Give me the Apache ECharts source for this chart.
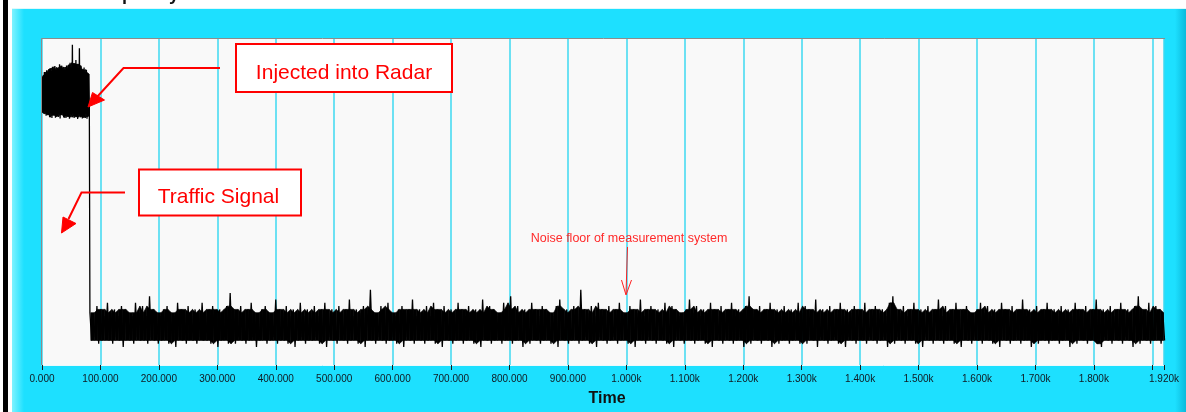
<!DOCTYPE html>
<html>
<head>
<meta charset="utf-8">
<title>Time trace</title>
<script src="https://cdn.jsdelivr.net/npm/echarts@6/dist/echarts.min.js"></script>
<style>
  html, body { margin: 0; padding: 0; background: #ffffff; }
  #wrap { position: relative; width: 1186px; height: 412px; overflow: hidden; background: #ffffff; }
  #edge { position: absolute; left: 3px; top: 0; width: 5px; height: 412px; background: #000000; }
  #panel {
    position: absolute; left: 12px; top: 8px; width: 1174px; height: 404px;
    background:
      linear-gradient(to right, #7ff3ff 0px, #1de0ff 12px, #1de0ff 1163px, #0cbadb 1174px);
    border-top: 1px solid #dff8fc;
    box-sizing: border-box;
  }
  #chart { position: absolute; left: 0; top: 0; width: 1186px; height: 412px; }
</style>
</head>
<body>
<div id="wrap">
  <div id="edge"></div>
  <div id="panel"></div>
  <div id="chart"></div>
</div>
<script>
// Time axis (in thousands of samples)
const timeMin = 0;
const timeMax = 1920;
const timeStep = 100;
const hiddenTickLabels = [1900];

// Burst of injected traffic signal: envelope peaks and troughs per time bin
const burstStart = 0;
const burstStep = 2;
const burstHi = [88.0, 88.5, 89.6, 89.0, 90.1, 89.4, 90.5, 90.8, 89.9, 91.2,
  90.4, 91.4, 90.2, 91.0, 90.6, 92.0, 90.8, 91.5, 90.2, 91.1,
  90.2, 91.6, 90.5, 91.8, 92.4, 91.0, 97.9, 92.2, 91.4, 93.3,
  92.0, 90.8, 96.9, 91.5, 90.4, 90.2, 91.0, 89.6, 90.3, 89.2, 89.0];
const burstLo = [77.2, 76.8, 77.5, 76.2, 77.0, 76.5, 75.8, 76.9, 75.5, 76.4,
  77.0, 75.6, 76.3, 75.9, 76.8, 75.4, 76.5, 77.1, 75.7, 76.2,
  75.5, 76.8, 76.0, 75.3, 76.6, 75.8, 76.9, 75.5, 76.2, 75.9,
  75.2, 76.7, 75.8, 76.3, 75.4, 76.1, 75.6, 76.8, 75.3, 76.0, 79.0];

// Noise floor after the burst: envelope peaks and troughs per time bin
const floorStart = 82;
const floorStep = 6;
const floorHi = [
  16,15,18,17,15,19,16,17,15,18, 17,16,15,19,16,18,15,21,17,16,
  15,17,18,16,15,19,17,16,18,15, 17,16,19,15,17,18,16,17,15,18,
  22,17,16,18,15,17,19,16,15,17, 18,16,15,20,17,16,18,15,17,16,
  19,15,17,16,18,15,17,19,16,17, 15,18,16,17,20,15,17,16,18,17,
  23,16,15,18,17,19,16,15,17,18, 16,17,20,15,17,16,18,15,19,17,
  16,18,15,17,16,19,17,15,18,16, 17,15,20,16,18,17,15,16,19,17,
  21,16,18,15,17,16,19,17,15,18, 17,16,15,18,20,16,17,15,18,17,
  23,17,16,18,15,19,17,16,18,15, 17,19,16,15,18,17,16,20,15,17,
  18,16,17,15,19,16,18,17,15,16, 17,20,16,18,15,17,16,19,17,15,
  18,16,17,19,15,17,16,18,21,17, 16,18,15,17,19,16,17,15,18,16,
  17,15,19,16,18,17,15,20,16,17, 15,18,16,17,19,15,17,16,18,17,
  16,19,15,17,18,16,17,15,19,21, 17,16,18,15,17,19,16,17,15,18,
  16,17,20,15,18,16,17,19,15,17, 18,16,15,17,19,16,18,15,17,16,
  19,17,15,18,16,17,20,15,17,16, 18,15,17,19,16,17,15,18,16,17,
  15,19,17,16,18,15,17,20,16,17, 16,18,15,17,19,16,17,15,18,21,
  17,16,19,15,18,17,16];
const floorLo = [
  7.5,8.5,6.5,7.5,8.5,7.5,6.5,8.5,7.5,5.5, 8.5,7.5,6.5,8.5,7.5,7.5,6.5,8.5,7.5,6.5,
  7.5,8.5,6.5,7.5,5.5,8.5,7.5,6.5,8.5,7.5, 6.5,8.5,7.5,7.5,6.5,8.5,5.5,7.5,8.5,6.5,
  7.5,6.5,8.5,7.5,6.5,7.5,8.5,5.5,7.5,8.5, 6.5,7.5,8.5,6.5,7.5,7.5,6.5,8.5,5.5,7.5,
  8.5,6.5,7.5,7.5,8.5,6.5,7.5,5.5,8.5,7.5, 6.5,8.5,7.5,6.5,7.5,8.5,6.5,7.5,5.5,8.5,
  7.5,6.5,8.5,7.5,6.5,7.5,8.5,6.5,7.5,5.5, 8.5,7.5,6.5,8.5,7.5,6.5,7.5,8.5,6.5,7.5,
  5.5,8.5,7.5,6.5,7.5,8.5,6.5,7.5,8.5,6.5, 7.5,5.5,8.5,7.5,6.5,7.5,8.5,6.5,7.5,8.5,
  6.5,7.5,8.5,5.5,7.5,6.5,8.5,7.5,6.5,7.5, 8.5,6.5,7.5,5.5,8.5,7.5,6.5,7.5,8.5,6.5,
  7.5,8.5,6.5,7.5,5.5,8.5,7.5,6.5,7.5,8.5, 6.5,7.5,8.5,6.5,7.5,5.5,8.5,7.5,6.5,8.5,
  7.5,6.5,8.5,7.5,6.5,7.5,5.5,8.5,7.5,6.5, 8.5,7.5,6.5,7.5,8.5,6.5,7.5,5.5,8.5,7.5,
  6.5,8.5,7.5,6.5,7.5,8.5,5.5,7.5,6.5,8.5, 7.5,6.5,8.5,7.5,5.5,8.5,6.5,7.5,8.5,6.5,
  7.5,8.5,6.5,7.5,6.5,8.5,7.5,5.5,8.5,7.5, 6.5,7.5,8.5,6.5,7.5,5.5,8.5,7.5,6.5,8.5,
  7.5,6.5,8.5,7.5,6.5,7.5,8.5,5.5,7.5,6.5, 8.5,7.5,6.5,8.5,7.5,6.5,7.5,5.5,8.5,7.5,
  6.5,8.5,7.5,6.5,7.5,8.5,6.5,7.5,5.5,8.5, 7.5,6.5,8.5,7.5,6.5,8.5,7.5,6.5,7.5,5.5,
  8.5,7.5,6.5,7.5,8.5,6.5,7.5,8.5,5.5,7.5, 6.5,8.5,7.5,6.5,7.5,8.5,6.5,7.5,8.5,5.5,
  7.5,6.5,8.5,7.5,6.5,7.5,8.5,6.5,5.5,8.5, 7.5,6.5,8.5,7.5,6.5,8.5,7.5,5.5,7.5,6.5,
  8.5,7.5,6.5,7.5,8.5,6.5,7.5];

// Annotation texts
const titleText = 'Frequency';
const axisTitle = 'Time';
const noteInjected = 'Injected into Radar';
const noteTraffic = 'Traffic Signal';
const noteFloor = 'Noise floor of measurement system';

// Interleave peaks and troughs so the trace swings between envelopes
function envelopeTrace(start, step, hi, lo) {
  const pts = [];
  for (let i = 0; i < hi.length; i++) {
    const t = start + step * i;
    pts.push([t, hi[i]]);
    pts.push([t + step / 2, lo[i]]);
  }
  return pts;
}

function median3(arr, i) {
  const n = arr.length;
  const v = [arr[Math.max(0, i - 1)], arr[i], arr[Math.min(n - 1, i + 1)]].sort((a, b) => a - b);
  return v[1];
}

// Dense core of a trace: the band most neighbouring samples pass through
// (median nearby peak down to median nearby trough). Each item joins two
// consecutive bins: [t0, bottom0, top0, t1, bottom1, top1].
function coreBand(start, step, hi, lo) {
  const n = hi.length;
  const pts = [];
  for (let i = 0; i < n; i++) {
    const top = median3(hi, i), bottom = median3(lo, i);
    pts.push([start + step * i + step / 4, bottom, Math.max(top, bottom)]);
  }
  const items = [];
  for (let i = 0; i + 1 < n; i++) {
    items.push(pts[i].concat(pts[i + 1]));
  }
  return items;
}

const trace = envelopeTrace(burstStart, burstStep, burstHi, burstLo)
  .concat(envelopeTrace(floorStart, floorStep, floorHi, floorLo));
const coreItems = coreBand(burstStart, burstStep, burstHi, burstLo)
  .concat(coreBand(floorStart, floorStep, floorHi, floorLo));

function tickLabel(v) {
  if (hiddenTickLabels.indexOf(v) >= 0) return '';
  return v >= 1000 ? (v / 1000).toFixed(3) + 'k' : v.toFixed(3);
}

function renderCore(params, api) {
  const p0t = api.coord([api.value(0), api.value(2)]);
  const p1t = api.coord([api.value(3), api.value(5)]);
  const p1b = api.coord([api.value(3), api.value(4)]);
  const p0b = api.coord([api.value(0), api.value(1)]);
  return {
    type: 'polygon',
    shape: { points: [p0t, p1t, p1b, p0b] },
    style: { fill: '#000000', stroke: '#000000', lineWidth: 0.6 }
  };
}

const RED = '#ff0000';
const chart = echarts.init(document.getElementById('chart'), null, { renderer: 'canvas' });
chart.setOption({
  backgroundColor: 'transparent',
  animation: false,
  grid: {
    left: 42, right: 22, top: 38, bottom: 47,
    show: true, backgroundColor: '#f9f9f9', borderWidth: 0
  },
  xAxis: {
    type: 'value', min: timeMin, max: timeMax, interval: timeStep,
    axisLine: { show: true, lineStyle: { color: '#e9fafd', width: 1 } },
    axisTick: { show: true, length: 5, lineStyle: { color: '#1a1a1a', width: 1 } },
    axisLabel: {
      formatter: tickLabel, fontFamily: 'Liberation Sans', fontSize: 10,
      color: '#101820', margin: 9
    },
    splitLine: { show: true, lineStyle: { color: '#3dd8f1', width: 1.5 } },
    name: axisTitle, nameLocation: 'middle', nameGap: 26,
    nameTextStyle: { fontFamily: 'Liberation Sans', fontSize: 16, fontWeight: 'bold',
      color: '#111111', padding: [0, 0, 0, 8] }
  },
  yAxis: {
    type: 'value', min: 0, max: 100,
    axisLine: { show: false }, axisTick: { show: false },
    axisLabel: { show: false }, splitLine: { show: false }
  },
  series: [
    {
      type: 'custom',
      data: coreItems,
      renderItem: renderCore,
      encode: { x: [0, 3], y: [1, 2, 4, 5] },
      clip: true,
      silent: true,
      z: 2
    },
    {
      type: 'line',
      data: trace,
      showSymbol: false,
      symbol: 'none',
      lineStyle: { color: '#000000', width: 1.3 },
      clip: true,
      z: 3
    }
  ],
  graphic: [
    // partly visible page title above the panel
    { type: 'text', x: 88, y: 4.5, z: 50,
      style: { text: titleText, font: 'bold 18px "Liberation Sans"', fill: '#111111', verticalAlign: 'bottom' } },
    // plot frame
    { type: 'polyline', z: 60,
      shape: { points: [[41.5, 365], [41.5, 38.5], [1165, 38.5]] },
      style: { stroke: '#8c8c8c', lineWidth: 1, fill: null } },
    // "Injected into Radar" callout
    { type: 'rect', z: 100, shape: { x: 236, y: 44, width: 216, height: 48 },
      style: { fill: '#ffffff', stroke: RED, lineWidth: 2 } },
    { type: 'text', z: 101, x: 344, y: 73,
      style: { text: noteInjected, font: '21px "Liberation Sans"', fill: RED, align: 'center', verticalAlign: 'middle' } },
    { type: 'polyline', z: 100, shape: { points: [[220, 68], [123.5, 68], [97, 97]] },
      style: { stroke: RED, lineWidth: 2, fill: null } },
    { type: 'polygon', z: 100, shape: { points: [[88, 107], [92.5, 92.5], [104.5, 100]] },
      style: { fill: RED, stroke: RED, lineWidth: 1 } },
    // "Traffic Signal" callout
    { type: 'rect', z: 100, shape: { x: 139, y: 169.5, width: 162, height: 46 },
      style: { fill: '#ffffff', stroke: RED, lineWidth: 2 } },
    { type: 'text', z: 101, x: 218.5, y: 197.5,
      style: { text: noteTraffic, font: '21px "Liberation Sans"', fill: RED, align: 'center', verticalAlign: 'middle' } },
    { type: 'polyline', z: 100, shape: { points: [[125, 192.5], [81.5, 192.5], [68.5, 219]] },
      style: { stroke: RED, lineWidth: 2, fill: null } },
    { type: 'polygon', z: 100, shape: { points: [[61.5, 233], [63, 217], [76, 223.5]] },
      style: { fill: RED, stroke: RED, lineWidth: 1 } },
    // noise floor note
    { type: 'text', z: 101, x: 629, y: 238.5,
      style: { text: noteFloor, font: '12.5px "Liberation Sans"', fill: '#ff2a2a', align: 'center', verticalAlign: 'middle' } },
    { type: 'polyline', z: 100, shape: { points: [[627.5, 247], [627, 262], [626.5, 278], [626, 294]] },
      style: { stroke: '#ff2020', lineWidth: 1, fill: null } },
    { type: 'polyline', z: 100, shape: { points: [[621.5, 280], [626, 295], [631.5, 280]] },
      style: { stroke: '#ff2020', lineWidth: 1, fill: null } }
  ]
});
</script>
</body>
</html>
